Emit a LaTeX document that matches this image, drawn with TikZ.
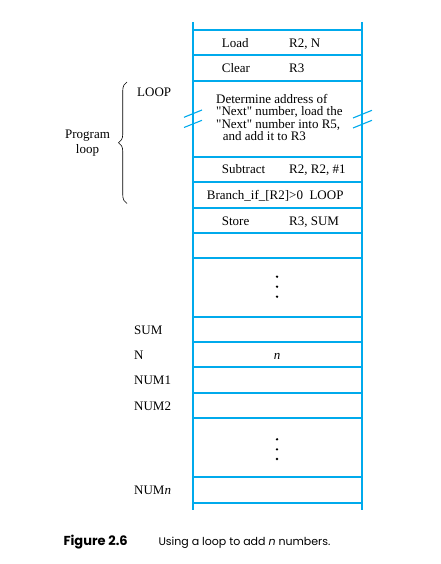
\documentclass[tikz,border=0pt]{standalone}
\usepackage{fontspec}
\setmainfont{Liberation Serif}
\newfontfamily\capfont{Poppins}
\usetikzlibrary{decorations.pathreplacing}
\definecolor{memblue}{RGB}{0,170,236}
\begin{document}
\begin{tikzpicture}[x=1pt,y=-1pt,
  wall/.style={memblue,line width=2pt},
  rowline/.style={memblue,line width=2pt},
  brk/.style={memblue,line width=1.1pt},
  txt/.style={anchor=base west,inner sep=0pt,font=\fontsize{13}{12.5}\selectfont},
  ctxt/.style={anchor=base,inner sep=0pt,font=\fontsize{13}{12.5}\selectfont},
  dot/.style={circle,fill=black,inner sep=0pt,minimum size=2.6pt},
  capt/.style={anchor=base west,inner sep=0pt,font=\capfont\fontsize{11}{13}\selectfont}]
\useasboundingbox (0,0) rectangle (440,564);
% memory column
\draw[wall] (193,22) -- (193,510);
\draw[wall] (361.5,22) -- (361.5,510);
\foreach \y in {30,55,81,157,182,208,233,258,317,342,367,393,418,477,503}
  \draw[rowline] (193,\y) -- (361.5,\y);
% break marks
\draw[brk] (184,117.3) -- (202,110);
\draw[brk] (184,127.5) -- (202,120.3);
\draw[brk] (353,118) -- (372,110.3);
\draw[brk] (353,128) -- (372,120.3);
% instructions
\node[txt] (ld) at (221.7,47.3) {Load};
\node[txt] (ldo) at (289,47.3) {R2, N};
\node[txt] (cl) at (221.7,72.7) {Clear};
\node[txt] (clo) at (289,72.7) {R3};
\node[txt] (d1) at (216,103.3) {Determine address of};
\node[txt] (d2) at (216,115.6) {\textquotedbl Next\textquotedbl\ number, load the};
\node[txt] (d3) at (216,128.2) {\textquotedbl Next\textquotedbl\ number into R5,};
\node[txt] (d4) at (222.7,140.7) {and add it to R3};
\node[txt] (sb) at (221.7,174) {Subtract};
\node[txt] (sbo) at (289,174) {R2, R2, \#1};
\node[txt] (br) at (206.7,199.5) {Branch\_if\_[R2]>0\hspace{6.5pt}LOOP};
\node[txt] (st) at (221.7,225) {Store};
\node[txt] (sto) at (289,225) {R3, SUM};
% dots
\node[dot] (a1) at (277,276.7) {};
\node[dot] (a2) at (277,286.7) {};
\node[dot] (a3) at (277,296.7) {};
\node[ctxt] (nval) at (277,359) {\itshape n};
\node[dot] (b1) at (277,439.3) {};
\node[dot] (b2) at (277,449.3) {};
\node[dot] (b3) at (277,459) {};
% labels
\node[txt] (loop) at (137,96.6) {LOOP};
\node[txt] (sum) at (134,334) {SUM};
\node[txt] (n) at (134,359.2) {N};
\node[txt] (num1) at (134,384.6) {NUM1};
\node[txt] (num2) at (134,410) {NUM2};
\node[txt] (numn) at (134,494) {NUM\textit{n}};
\node[ctxt] (pg) at (87.5,138.3) {Program};
\node[ctxt] (pl) at (87.5,153.3) {loop};
% brace
\coordinate (bt) at (127,82);
\coordinate (bb) at (127,203.5);
\draw[black,line width=0.6pt,decorate,decoration={brace,amplitude=8.5pt}] (bb) -- (bt);
% caption
\node[capt,font=\capfont\bfseries\fontsize{13}{15}\selectfont] (fig) at (63.3,545.3) {Figure 2.6};
\node[capt] (cap) at (158.3,545.3) {Using a loop to add \textit{n} numbers.};
\end{tikzpicture}
\end{document}
